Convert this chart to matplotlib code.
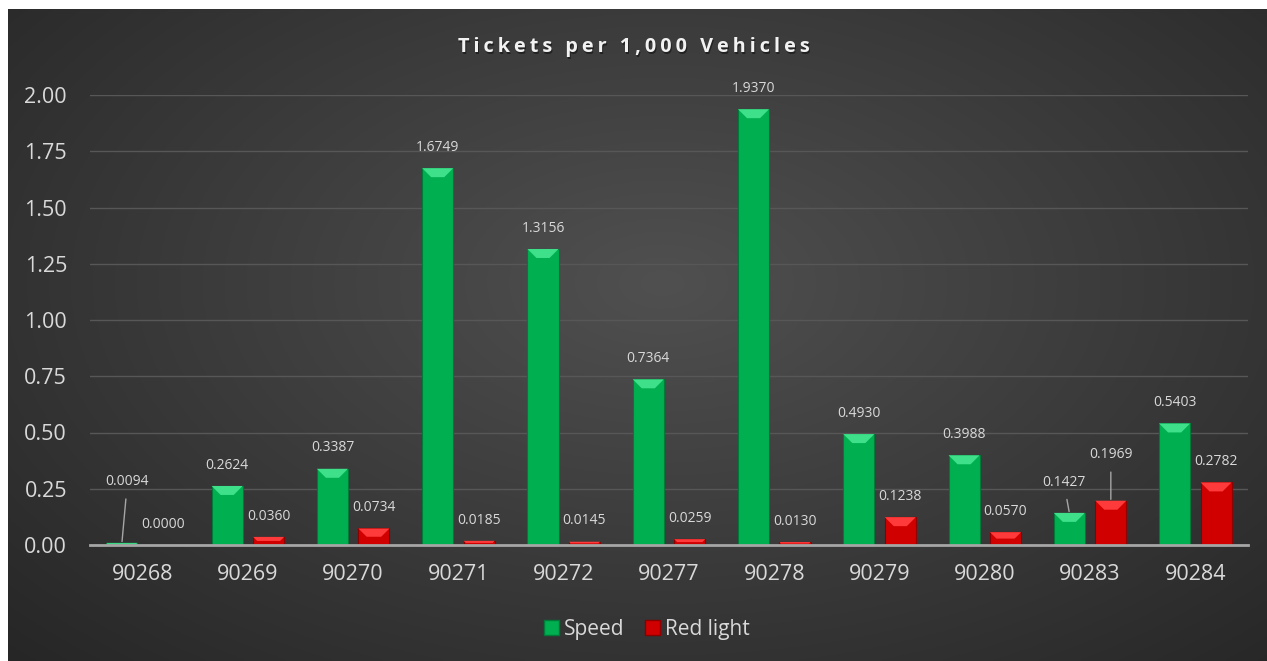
"""Bar chart: tickets per 1,000 vehicles by ZIP code (speed vs red light)."""
import numpy as np
import matplotlib.pyplot as plt
from matplotlib.patches import Polygon, Patch

plt.rcParams['font.family'] = ['Open Sans', 'DejaVu Sans']

zips = ['90268', '90269', '90270', '90271', '90272', '90277',
        '90278', '90279', '90280', '90283', '90284']
speed = [0.0094, 0.2624, 0.3387, 1.6749, 1.3156, 0.7364,
         1.9370, 0.4930, 0.3988, 0.1427, 0.5403]
red_light = [0.0000, 0.0360, 0.0734, 0.0185, 0.0145, 0.0259,
             0.0130, 0.1238, 0.0570, 0.1969, 0.2782]

GREEN = '#00b050'
GREEN_TOP = '#3ee08a'
GREEN_EDGE = '#007a38'
RED = '#d00000'
RED_TOP = '#ff3a3a'
RED_EDGE = '#8a0000'
TEXT = '#d9d9d9'

W, H = 1267, 661
fig = plt.figure(figsize=(W / 100, H / 100), dpi=100)
fig.patch.set_facecolor('white')

# dark radial-gradient panel behind everything
bg = fig.add_axes([8 / W, 0, 1 - 8 / W, 1 - 9 / H], zorder=0)
gx, gy = np.meshgrid(np.linspace(0, 1, 400), np.linspace(0, 1, 220))
r = np.sqrt(((gx - 0.52) / 0.75) ** 2 + ((gy - 0.42) / 0.85) ** 2)
r = np.clip(r, 0, 1)
lo, hi = np.array([0x50, 0x50, 0x50]) / 255, np.array([0x25, 0x25, 0x25]) / 255
img = lo[None, None, :] * (1 - r[..., None]) + hi[None, None, :] * r[..., None]
bg.imshow(img, aspect='auto', extent=(0, 1, 0, 1), origin='upper')
bg.axis('off')

ax = fig.add_axes([90 / W, (H - 545) / H, (1248 - 90) / W, 450 / H], zorder=1)
ax.patch.set_alpha(0)

x = np.arange(len(zips))
width = 0.295
off = 0.197
ax.set_xlim(-0.5, len(zips) - 0.5)
ax.set_ylim(0, 2.0)

px_x = (len(zips)) / (1248 - 90)   # data units per pixel
px_y = 2.0 / 450


def bevel_bars(xs, vals, face, top, edge):
    ax.bar(xs, vals, width=width, color=face, edgecolor=edge,
           linewidth=0.8, zorder=3)
    for xc, v in zip(xs, vals):
        if v <= 0:
            continue
        b = min(9 * px_y, v / 2)
        ins = min(9 * px_x, width / 2 - 2 * px_x) * (b / (9 * px_y))
        l, rr = xc - width / 2, xc + width / 2
        ax.add_patch(Polygon([(l, v), (rr, v), (rr - ins, v - b), (l + ins, v - b)],
                             closed=True, facecolor=top, edgecolor='none', zorder=4))


bevel_bars(x - off, speed, GREEN, GREEN_TOP, GREEN_EDGE)
bevel_bars(x + off, red_light, RED, RED_TOP, RED_EDGE)

# data labels (a few moved with leader lines, as in the original)
moved = {('s', 0): (4, 44), ('s', 9): (-4, 22), ('r', 9): (0, 33)}
for key, xs, vals in (('s', x - off, speed), ('r', x + off, red_light)):
    for i, (xc, v) in enumerate(zip(xs, vals)):
        if (key, i) in moved:
            dx, dy = moved[(key, i)]
            ax.annotate(f'{v:.4f}', xy=(xc, v), xytext=(dx, dy),
                        textcoords='offset points', ha='center', va='center',
                        fontsize=10, color=TEXT, zorder=6,
                        arrowprops=dict(arrowstyle='-', color='#a6a6a6', lw=1,
                                        shrinkA=5, shrinkB=1))
        else:
            ax.annotate(f'{v:.4f}', xy=(xc, v), xytext=(0, 15),
                        textcoords='offset points', ha='center', va='center',
                        fontsize=10, color=TEXT, zorder=6)

ax.set_yticks(np.arange(0, 2.01, 0.25))
ax.set_yticklabels([f'{t:.2f}' for t in np.arange(0, 2.01, 0.25)])
ax.set_xticks(x)
ax.set_xticklabels(zips)
ax.tick_params(axis='both', length=0, labelsize=15.5, colors=TEXT)
ax.tick_params(axis='y', pad=16.5)
ax.tick_params(axis='x', pad=14)
ax.yaxis.grid(True, color='#575757', linewidth=1)
ax.set_axisbelow(True)
for s in ('top', 'right', 'left'):
    ax.spines[s].set_visible(False)
ax.spines['bottom'].set_color('#a6a6a6')
ax.spines['bottom'].set_linewidth(2)
ax.spines['bottom'].set_zorder(5)

title = '\u2009'.join('Tickets per 1,000 Vehicles')
fig.text(0.5 + 1.5 / W, 1 - 49 / H, title, ha='center', va='center', fontsize=14.3,
         fontweight='bold', color='#111111', alpha=0.6)
fig.text(0.5, 1 - 47 / H, title, ha='center', va='center', fontsize=14.3,
         fontweight='bold', color='#f2f2f2')

handles = [Patch(facecolor=GREEN, edgecolor=GREEN_EDGE, label='Speed'),
           Patch(facecolor=RED, edgecolor=RED_EDGE, label='Red light')]
fig.legend(handles=handles, loc='center', bbox_to_anchor=(647 / W, 1 - 629 / H),
           ncol=2, frameon=False, fontsize=15, labelcolor=TEXT,
           handlelength=0.7, handleheight=0.7, handletextpad=0.25,
           columnspacing=1.0)

fig.savefig('out.png', dpi=100)
